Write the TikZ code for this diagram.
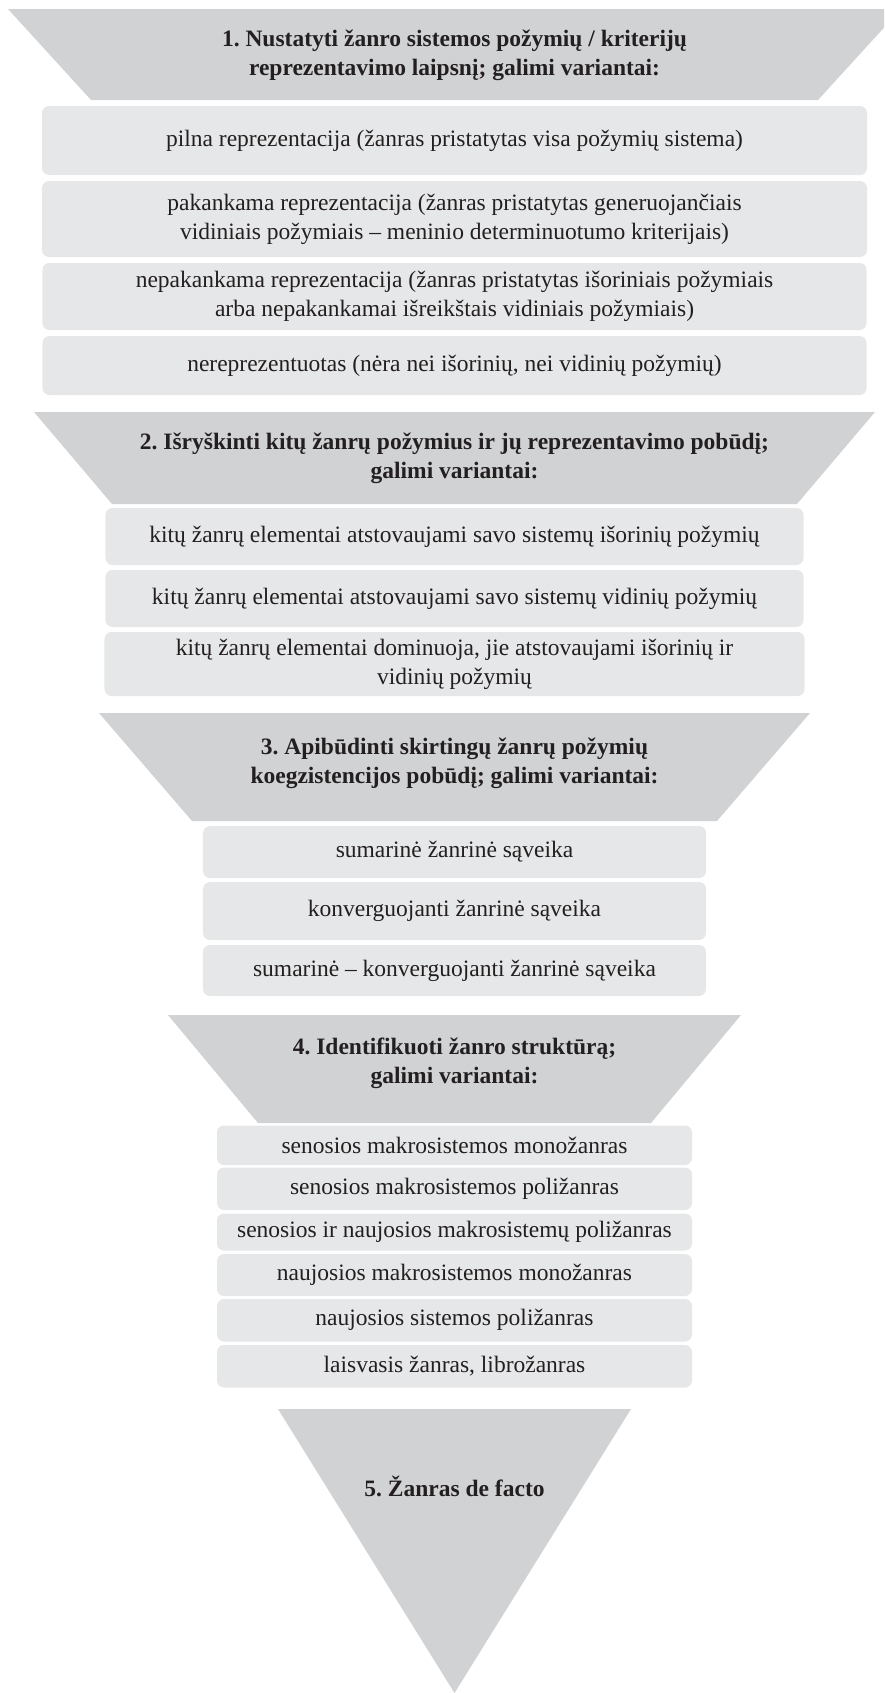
\documentclass[tikz,border=0pt]{standalone}
\usepackage{fontspec}
\setmainfont{Liberation Serif}
\frenchspacing
\definecolor{funnel}{RGB}{209,210,212}
\definecolor{option}{RGB}{230,231,232}
\definecolor{ink}{RGB}{35,31,32}
\begin{document}
\begin{tikzpicture}[x=1bp,y=-1bp,
  stage/.style={fill=funnel},
  optbox/.style={fill=option, rounded corners=7bp, inner sep=0pt, align=center,
    text=ink, font=\fontsize{23.5bp}{29bp}\selectfont},
  head/.style={font=\fontsize{23.5bp}{29bp}\selectfont\bfseries, text=ink,
    align=center, inner sep=0pt}]

\useasboundingbox (0,0) rectangle (884,1693);
\clip (0,0) rectangle (884,1693);

% ---- stage 1 ----
\fill[stage] (8,9) -- (901,9) -- (818,100) -- (91,100) -- cycle;
\node[head] (s1) at (454.5,55) {1. Nustatyti žanro sistemos požymių / kriterijų\\reprezentavimo laipsnį; galimi variantai:};

\node[optbox, minimum width=825bp, minimum height=69bp] (o11) at (454.5,140.5)
  {pilna reprezentacija (žanras pristatytas visa požymių sistema)};
\node[optbox, minimum width=825bp, minimum height=76bp] (o12) at (454.5,219)
  {pakankama reprezentacija (žanras pristatytas generuojančiais\\vidiniais požymiais – meninio determinuotumo kriterijais)};
\node[optbox, minimum width=824bp, minimum height=67bp] (o13) at (454.5,296.5)
  {nepakankama reprezentacija (žanras pristatytas išoriniais požymiais\\arba nepakankamai išreikštais vidiniais požymiais)};
\node[optbox, minimum width=824bp, minimum height=59bp] (o14) at (454.5,365.5)
  {nereprezentuotas (nėra nei išorinių, nei vidinių požymių)};

% ---- stage 2 ----
\fill[stage] (34,412) -- (875,412) -- (797,504) -- (112,504) -- cycle;
\node[head] (s2) at (454.5,458) {2. Išryškinti kitų žanrų požymius ir jų reprezentavimo pobūdį;\\galimi variantai:};

\node[optbox, minimum width=698bp, minimum height=57bp] (o21) at (454.5,536.5)
  {kitų žanrų elementai atstovaujami savo sistemų išorinių požymių};
\node[optbox, minimum width=698bp, minimum height=57bp] (o22) at (454.5,598.5)
  {kitų žanrų elementai atstovaujami savo sistemų vidinių požymių};
\node[optbox, minimum width=700bp, minimum height=64bp] (o23) at (454.5,664)
  {kitų žanrų elementai dominuoja, jie atstovaujami išorinių ir\\vidinių požymių};

% ---- stage 3 ----
\fill[stage] (99,713) -- (810,713) -- (717,821) -- (192,821) -- cycle;
\node[head] (s3) at (454.5,763) {3. Apibūdinti skirtingų žanrų požymių\\koegzistencijos pobūdį; galimi variantai:};

\node[optbox, minimum width=503bp, minimum height=52bp] (o31) at (454.5,852)
  {sumarinė žanrinė sąveika};
\node[optbox, minimum width=503bp, minimum height=58bp] (o32) at (454.5,911)
  {konverguojanti žanrinė sąveika};
\node[optbox, minimum width=503bp, minimum height=51bp] (o33) at (454.5,970.5)
  {sumarinė – konverguojanti žanrinė sąveika};

% ---- stage 4 ----
\fill[stage] (168,1015) -- (741,1015) -- (651,1123) -- (258,1123) -- cycle;
\node[head] (s4) at (454.5,1063) {4. Identifikuoti žanro struktūrą;\\galimi variantai:};

\node[optbox, minimum width=475bp, minimum height=39.5bp] (o41) at (454.5,1145.25)
  {senosios makrosistemos monožanras};
\node[optbox, minimum width=475bp, minimum height=42.5bp] (o42) at (454.5,1188.75)
  {senosios makrosistemos poližanras};
\node[optbox, minimum width=475bp, minimum height=37bp] (o43) at (454.5,1232)
  {senosios ir naujosios makrosistemų poližanras};
\node[optbox, minimum width=475bp, minimum height=42bp] (o44) at (454.5,1275)
  {naujosios makrosistemos monožanras};
\node[optbox, minimum width=475bp, minimum height=42.5bp] (o45) at (454.5,1320.25)
  {naujosios sistemos poližanras};
\node[optbox, minimum width=475bp, minimum height=42.5bp] (o46) at (454.5,1366.25)
  {laisvasis žanras, librožanras};

% ---- stage 5 ----
\fill[stage] (278,1409) -- (631,1409) -- (454.5,1693) -- cycle;
\node[head] (s5) at (454.5,1486) {5. Žanras de facto};
\end{tikzpicture}
\end{document}
